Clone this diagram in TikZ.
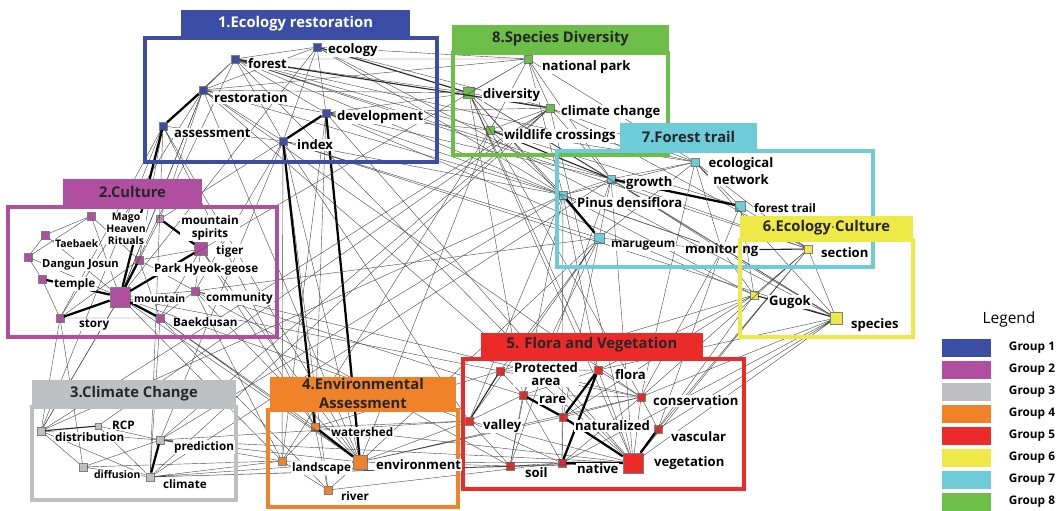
\documentclass[tikz,border=0pt]{standalone}
\usepackage{fontspec}
\setmainfont{Open Sans}
\usetikzlibrary{positioning}

\definecolor{ecoblue}{HTML}{3C4DA6}
\definecolor{culpurple}{HTML}{B04FA0}
\definecolor{climgray}{HTML}{BEBFC1}
\definecolor{envorange}{HTML}{F0822A}
\definecolor{florared}{HTML}{ED2A2A}
\definecolor{cultyellow}{HTML}{EEE946}
\definecolor{trailcyan}{HTML}{6ECCD8}
\definecolor{divgreen}{HTML}{6CBE48}

\begin{document}
\begin{tikzpicture}[
    x=0.025cm, y=-0.025cm,
    sq/.style={rectangle, draw=black!50, line width=0.3pt, inner sep=0pt, minimum size=2.1mm, fill=#1},
    bigsq/.style={sq=#1, minimum size=3.2mm},
    hugesq/.style={sq=#1, minimum size=5mm},
    lab/.style={font=\bfseries\fontsize{9.3}{10}\selectfont, fill=white, inner sep=0.6pt, anchor=west},
    mlab/.style={lab, font=\bfseries\fontsize{8.3}{9.3}\selectfont},
    slab/.style={lab, font=\bfseries\fontsize{7.4}{8.4}\selectfont},
    tab/.style={fill=#1, inner sep=0pt, text=black!85, font=\bfseries\fontsize{10.5}{13}\selectfont},
    grp/.style={draw=#1, line width=2.2pt},
    edge/.style={draw=black!70, line width=0.3pt},
    medge/.style={draw=black!85, line width=0.8pt},
    tedge/.style={draw=black, line width=1.6pt},
    swatch/.style={fill=#1, minimum width=1.23cm, minimum height=0.45cm, inner sep=0pt},
    glab/.style={font=\bfseries\fontsize{8.4}{10}\selectfont, anchor=west}
]
\useasboundingbox (0,0) rectangle (1060,511);

% Group 1
\node[sq=ecoblue] (ecology) at (317,47) {};
\node[sq=ecoblue] (forest) at (235,59) {};
\node[sq=ecoblue] (restoration) at (203,90) {};
\node[sq=ecoblue] (development) at (326,113) {};
\node[sq=ecoblue, minimum size=1.9mm] (assessment) at (163,126) {};
\node[sq=ecoblue] (index) at (283,141) {};

% Group 8
\node[sq=divgreen, minimum size=1.9mm] (natpark) at (528,59) {};
\node[bigsq=divgreen, minimum size=2.8mm] (diversity) at (469,93) {};
\node[sq=divgreen, minimum size=1.9mm] (climchange) at (550,108) {};
\node[sq=divgreen, minimum size=1.9mm] (wildlife) at (490,130) {};

% Group 7
\node[sq=trailcyan, minimum size=1.9mm] (econet) at (695,162) {};
\node[sq=trailcyan, minimum size=1.9mm] (growth) at (611,179) {};
\node[sq=trailcyan, minimum size=1.9mm] (pinus) at (563,195) {};
\node[sq=trailcyan, minimum size=2.4mm] (foresttrail) at (740,206) {};
\node[sq=trailcyan, minimum size=2.5mm] (marugeum) at (599,238) {};

% Group 6
\node[sq=cultyellow, minimum size=1.9mm] (section) at (808,249) {};
\node[sq=cultyellow, minimum size=1.9mm] (gugok) at (754,295) {};
\node[bigsq=cultyellow, minimum size=2.9mm] (species) at (836,318) {};

% Group 2
\node[sq=culpurple, minimum size=1.9mm] (mago) at (91,216) {};
\node[sq=culpurple, minimum size=1.9mm] (taebaek) at (45,235) {};
\node[sq=culpurple!70, minimum size=1.7mm] (mtspirits) at (160,219) {};
\node[bigsq=culpurple] (tiger) at (201,249) {};
\node[sq=culpurple, minimum size=1.9mm] (dangun) at (28,257) {};
\node[sq=culpurple, minimum size=1.9mm] (park) at (139,260) {};
\node[sq=culpurple] (temple) at (42,279) {};
\node[hugesq=culpurple] (mountain) at (120,297) {};
\node[sq=culpurple, minimum size=1.9mm] (community) at (195,291) {};
\node[sq=culpurple, minimum size=1.9mm] (story) at (60,318) {};
\node[sq=culpurple, minimum size=1.9mm] (baekdusan) at (160,318) {};

% Group 3
\node[sq=climgray, minimum size=1.9mm] (distribution) at (41,431) {};
\node[sq=climgray, minimum size=1.4mm] (rcp) at (98,426) {};
\node[sq=climgray, minimum size=1.9mm] (prediction) at (160,440) {};
\node[sq=climgray, minimum size=1.9mm] (diffusion) at (83,467) {};
\node[sq=climgray] (climate) at (150,477) {};

% Group 4
\node[sq=envorange, minimum size=1.9mm] (watershed) at (315,427) {};
\node[sq=envorange, minimum size=1.9mm] (landscape) at (282,461) {};
\node[bigsq=envorange, minimum size=3.4mm] (environment) at (360,462) {};
\node[sq=envorange, minimum size=1.9mm] (river) at (328,490) {};

% Group 5
\node[sq=florared, minimum size=1.9mm] (protected) at (500,371) {};
\node[sq=florared] (flora) at (598,370) {};
\node[sq=florared, minimum size=1.9mm] (rare) at (523,395) {};
\node[sq=florared, minimum size=1.9mm] (conservation) at (641,397) {};
\node[sq=florared, minimum size=1.9mm] (valley) at (469,421) {};
\node[sq=florared, minimum size=1.9mm] (naturalized) at (563,417) {};
\node[sq=florared, minimum size=1.9mm] (vascular) at (658,429) {};
\node[sq=florared, minimum size=1.9mm] (soil) at (510,466) {};
\node[sq=florared, minimum size=1.9mm] (native) at (562,463) {};
\node[hugesq=florared] (vegetation) at (633,463) {};

\node[lab] (monitoring) at (684,250) {monitoring};

% links
\draw[edge] (ecology) -- (forest) (ecology) -- (development) (ecology) -- (index) (ecology) -- (restoration)
    (ecology) -- (climchange) (ecology) -- (pinus) (ecology) -- (mountain) (ecology) -- (species) (ecology) -- (natpark);
\draw[medge] (ecology) -- (diversity);
\draw[edge] (forest) -- (restoration) (forest) -- (assessment) (forest) -- (development) (forest) -- (index)
    (forest) -- (wildlife) (forest) -- (diversity) (forest) -- (growth) (forest) -- (pinus) (forest) -- (econet)
    (forest) -- (mountain) (forest) -- (vegetation) (forest) -- (section);
\draw[medge] (forest) -- (climchange);
\draw[edge] (restoration) -- (development) (restoration) -- (index) (restoration) -- (diversity) (restoration) -- (environment)
    (restoration) -- (story) (restoration) -- (mountain) (restoration) -- (pinus) (restoration) -- (vegetation) (restoration) -- (conservation);
\draw[tedge] (restoration) -- (assessment);
\draw[edge] (development) -- (watershed) (development) -- (wildlife) (development) -- (diversity) (development) -- (climchange)
    (development) -- (growth) (development) -- (monitoring) (development) -- (landscape) (development) -- (vegetation) (development) -- (gugok);
\draw[tedge] (development) -- (index) (development) -- (environment);
\draw[edge] (assessment) -- (story) (assessment) -- (distribution) (assessment) -- (climate) (assessment) -- (environment)
    (assessment) -- (watershed) (assessment) -- (index) (assessment) -- (park);
\draw[tedge] (assessment) -- (mountain);
\draw[edge] (index) -- (environment) (index) -- (landscape) (index) -- (river) (index) -- (prediction) (index) -- (valley)
    (index) -- (species) (index) -- (pinus) (index) -- (community) (index) -- (marugeum);
\draw[tedge] (index) -- (watershed);

\draw[edge] (natpark) -- (diversity) (natpark) -- (wildlife) (natpark) -- (climchange) (natpark) -- (forest)
    (natpark) -- (restoration) (natpark) -- (growth) (natpark) -- (econet) (natpark) -- (pinus) (natpark) -- (mountain);
\draw[edge] (diversity) -- (climchange) (diversity) -- (wildlife) (diversity) -- (growth) (diversity) -- (pinus)
    (diversity) -- (marugeum) (diversity) -- (vegetation) (diversity) -- (conservation) (diversity) -- (flora)
    (diversity) -- (species) (diversity) -- (rare);
\draw[edge] (climchange) -- (wildlife) (climchange) -- (growth) (climchange) -- (econet) (climchange) -- (prediction)
    (climchange) -- (climate) (climchange) -- (distribution) (climchange) -- (rcp) (climchange) -- (vegetation) (climchange) -- (section);
\draw[edge] (wildlife) -- (pinus) (wildlife) -- (foresttrail) (wildlife) -- (econet) (wildlife) -- (landscape) (wildlife) -- (environment);
\draw[medge] (wildlife) -- (growth);

\draw[edge] (growth) -- (pinus) (growth) -- (econet) (growth) -- (marugeum) (growth) -- (monitoring) (growth) -- (section)
    (growth) -- (species) (growth) -- (vegetation) (growth) -- (soil) (growth) -- (climate);
\draw[tedge] (growth) -- (foresttrail);
\draw[edge] (pinus) -- (monitoring) (pinus) -- (valley) (pinus) -- (soil) (pinus) -- (native) (pinus) -- (flora)
    (pinus) -- (prediction) (pinus) -- (distribution) (pinus) -- (gugok);
\draw[tedge] (pinus) -- (marugeum);
\draw[edge] (econet) -- (foresttrail) (econet) -- (pinus) (econet) -- (marugeum) (econet) -- (monitoring) (econet) -- (section)
    (econet) -- (species) (econet) -- (conservation);
\draw[edge] (foresttrail) -- (monitoring) (foresttrail) -- (section) (foresttrail) -- (gugok);
\draw[edge] (marugeum) -- (monitoring) (marugeum) -- (valley) (marugeum) -- (rare) (marugeum) -- (protected)
    (marugeum) -- (naturalized) (marugeum) -- (environment) (marugeum) -- (community);
\draw[edge] (monitoring) -- (species) (monitoring) -- (gugok) (monitoring) -- (vascular) (monitoring) -- (conservation);
\draw[medge] (monitoring) -- (section);

\draw[edge] (section) -- (gugok) (section) -- (species) (section) -- (conservation) (section) -- (vegetation) (section) -- (vascular);
\draw[edge] (gugok) -- (naturalized) (gugok) -- (vegetation) (gugok) -- (flora) (gugok) -- (protected);
\draw[medge] (gugok) -- (species);
\draw[edge] (species) -- (vascular) (species) -- (conservation) (species) -- (vegetation) (species) -- (flora) (species) -- (native);

\draw[edge] (mountain) -- (mago) (mountain) -- (taebaek) (mountain) -- (dangun) (mountain) -- (mtspirits)
    (mountain) -- (community) (mountain) -- (restoration) (mountain) -- (environment) (mountain) -- (landscape)
    (mountain) -- (distribution) (mountain) -- (valley) (mountain) -- (protected);
\draw[tedge] (mountain) -- (temple) (mountain) -- (story) (mountain) -- (park) (mountain) -- (tiger) (mountain) -- (baekdusan);
\draw[edge] (tiger) -- (park) (tiger) -- (community) (tiger) -- (baekdusan) (tiger) -- (environment) (tiger) -- (watershed);
\draw[tedge] (tiger) -- (mtspirits);
\draw[edge] (park) -- (mago) (park) -- (community) (park) -- (baekdusan) (park) -- (story);
\draw[edge] (mago) -- (taebaek) (mago) -- (dangun) (taebaek) -- (dangun) (temple) -- (story) (temple) -- (dangun);
\draw[edge] (story) -- (baekdusan) (story) -- (distribution) (story) -- (diffusion);
\draw[edge] (community) -- (baekdusan) (community) -- (landscape) (community) -- (environment) (community) -- (rare)
    (community) -- (conservation) (community) -- (soil);
\draw[edge] (baekdusan) -- (environment) (baekdusan) -- (watershed) (baekdusan) -- (river) (baekdusan) -- (climate);
\draw[edge] (mtspirits) -- (restoration) (mtspirits) -- (index);

\draw[edge] (distribution) -- (diffusion) (distribution) -- (climate) (distribution) -- (prediction) (distribution) -- (mountain);
\draw[medge] (distribution) -- (rcp);
\draw[edge] (rcp) -- (prediction) (rcp) -- (climate);
\draw[edge] (prediction) -- (diffusion) (prediction) -- (environment) (prediction) -- (vegetation) (prediction) -- (landscape) (prediction) -- (valley);
\draw[tedge] (prediction) -- (climate);
\draw[edge] (diffusion) -- (climate) (diffusion) -- (landscape);
\draw[edge] (climate) -- (landscape) (climate) -- (environment) (climate) -- (vegetation) (climate) -- (soil);

\draw[edge] (watershed) -- (landscape) (watershed) -- (river) (watershed) -- (valley) (watershed) -- (vegetation) (watershed) -- (protected);
\draw[tedge] (watershed) -- (environment);
\draw[edge] (landscape) -- (river) (landscape) -- (environment);
\draw[edge] (environment) -- (river) (environment) -- (valley) (environment) -- (vegetation) (environment) -- (soil)
    (environment) -- (conservation) (environment) -- (naturalized);
\draw[edge] (river) -- (native);

\draw[edge] (protected) -- (rare) (protected) -- (flora) (protected) -- (conservation);
\draw[medge] (protected) -- (valley);
\draw[edge] (flora) -- (conservation) (flora) -- (rare) (flora) -- (vegetation);
\draw[tedge] (flora) -- (naturalized) (flora) -- (native);
\draw[edge] (rare) -- (conservation) (rare) -- (soil) (rare) -- (native) (rare) -- (valley);
\draw[tedge] (rare) -- (naturalized);
\draw[edge] (conservation) -- (vascular) (conservation) -- (vegetation) (conservation) -- (naturalized) (conservation) -- (native);
\draw[edge] (valley) -- (soil) (valley) -- (native) (valley) -- (vegetation);
\draw[edge] (naturalized) -- (native) (soil) -- (native) (soil) -- (vegetation);
\draw[tedge] (naturalized) -- (vegetation) (vascular) -- (vegetation) (native) -- (vegetation);

% group frames and tabs
\draw[grp=ecoblue] (145,38) rectangle (437,162);
\node[tab=ecoblue, text=white, minimum width=5.73cm, minimum height=0.68cm] (t1) at (295.5,23.5) {1.Ecology restoration};
\draw[grp=culpurple] (8,207) rectangle (277,337);
\node[tab=culpurple, minimum width=3.48cm, minimum height=0.65cm] (t2) at (132.5,192) {2.Culture};
\draw[grp=climgray] (32,407) rectangle (236,500);
\node[tab=climgray, minimum width=5.1cm, minimum height=0.68cm] (t3) at (134,393.5) {3.Climate Change};
\draw[grp=envorange] (268,410) rectangle (458,507);
\node[tab=envorange, align=center, minimum width=4.65cm, minimum height=0.83cm] (t4) at (363,393.5) {4.Environmental\\Assessment};
\draw[grp=florared] (463,359) rectangle (744,489);
\node[tab=florared, minimum width=5.55cm, minimum height=0.6cm] (t5) at (592,345) {5. Flora and Vegetation};
\draw[grp=divgreen] (453,53) rectangle (668,155);
\node[tab=divgreen, minimum width=5.43cm, minimum height=0.7cm] (t8) at (560.5,39) {8.Species Diversity};
\draw[grp=trailcyan] (557,151) rectangle (873,267);
\node[tab=trailcyan, minimum width=3.43cm, minimum height=0.68cm] (t7) at (688.5,136.5) {7.Forest trail};
\draw[grp=cultyellow] (740,240) rectangle (913,337);
\node[tab=cultyellow, minimum width=4.33cm, minimum height=0.6cm] (t6) at (826.5,228) {6.Ecology$\cdot$Culture};

% labels
\node[lab] (ecologyL) at (327,50) {ecology};
\node[lab] (forestL) at (247,64) {forest};
\node[lab] (restorationL) at (213,98) {restoration};
\node[lab] (developmentL) at (336,117) {development};
\node[lab] (assessmentL) at (173,133) {assessment};
\node[lab] (indexL) at (296,145) {index};

\node[lab] (natparkL) at (541,67) {national park};
\node[lab] (diversityL) at (482,95) {diversity};
\node[lab] (climchangeL) at (560,112) {climate change};
\node[lab] (wildlifeL) at (503,136) {wildlife crossings};

\node[lab, anchor=center, align=center, font=\bfseries\fontsize{9.3}{12.5}\selectfont] (econetL) at (741,171) {ecological\\network};
\node[lab] (growthL) at (625,183) {growth};
\node[lab] (pinusL) at (576,203) {Pinus densiflora};
\node[mlab] (foresttrailL) at (753,208) {forest trail};
\node[mlab] (marugeumL) at (610,246) {marugeum};

\node[lab] (sectionL) at (820,253) {section};
\node[lab] (gugokL) at (768,302) {Gugok};
\node[lab] (speciesL) at (850,325) {species};

\node[slab, anchor=center, align=center] (magoL) at (126,229) {Mago\\Heaven\\Rituals};
\node[slab] (taebaekL) at (54,244) {Taebaek};
\node[mlab, anchor=center, align=center] (mtspiritsL) at (210,228) {mountain\\spirits};
\node[mlab] (tigerL) at (215,251) {tiger};
\node[slab, font=\bfseries\fontsize{7.9}{9}\selectfont] (dangunL) at (41,265) {Dangun Josun};
\node[mlab] (parkL) at (153,269) {Park Hyeok-geose};
\node[mlab] (templeL) at (53,284) {temple};
\node[slab] (mountainL) at (133,299) {mountain};
\node[mlab] (communityL) at (205,298) {community};
\node[mlab] (storyL) at (78,325) {story};
\node[mlab] (baekdusanL) at (172,322) {Baekdusan};

\node[mlab] (distributionL) at (54,437) {distribution};
\node[mlab] (rcpL) at (111,425) {RCP};
\node[mlab] (predictionL) at (173,447) {prediction};
\node[slab] (diffusionL) at (93,475) {diffusion};
\node[mlab] (climateL) at (162,484) {climate};

\node[mlab] (watershedL) at (330,432) {watershed};
\node[mlab] (landscapeL) at (291,468) {landscape};
\node[lab] (environmentL) at (375,465) {environment};
\node[mlab] (riverL) at (340,496) {river};

\node[lab, anchor=center, align=center, font=\bfseries\fontsize{9.3}{9.6}\selectfont] (protectedL) at (546,374) {Protected\\area};
\node[lab] (floraL) at (614,375) {flora};
\node[lab] (rareL) at (538,400) {rare};
\node[lab] (conservationL) at (652,401) {conservation};
\node[lab] (valleyL) at (482,426) {valley};
\node[lab] (naturalizedL) at (574,426) {naturalized};
\node[lab] (vascularL) at (670,437) {vascular};
\node[lab] (soilL) at (524,473) {soil};
\node[lab] (nativeL) at (576,469) {native};
\node[lab] (vegetationL) at (653,463) {vegetation};

% legend
\node[font=\fontsize{11}{13}\selectfont] (legend) at (1009,319) {Legend};
\node[swatch=ecoblue] (s1) at (966.5,348) {};
\node[swatch=culpurple] (s2) at (966.5,370) {};
\node[swatch=climgray] (s3) at (966.5,392) {};
\node[swatch=envorange] (s4) at (966.5,414) {};
\node[swatch=florared] (s5) at (966.5,436) {};
\node[swatch=cultyellow] (s6) at (966.5,458) {};
\node[swatch=trailcyan] (s7) at (966.5,480) {};
\node[swatch=divgreen] (s8) at (966.5,502) {};
\node[glab] (g1) at (1004,348) {Group 1};
\node[glab] (g2) at (1004,370) {Group 2};
\node[glab] (g3) at (1004,392) {Group 3};
\node[glab] (g4) at (1004,414) {Group 4};
\node[glab] (g5) at (1004,436) {Group 5};
\node[glab] (g6) at (1004,458) {Group 6};
\node[glab] (g7) at (1004,480) {Group 7};
\node[glab] (g8) at (1004,502) {Group 8};

\end{tikzpicture}
\end{document}
